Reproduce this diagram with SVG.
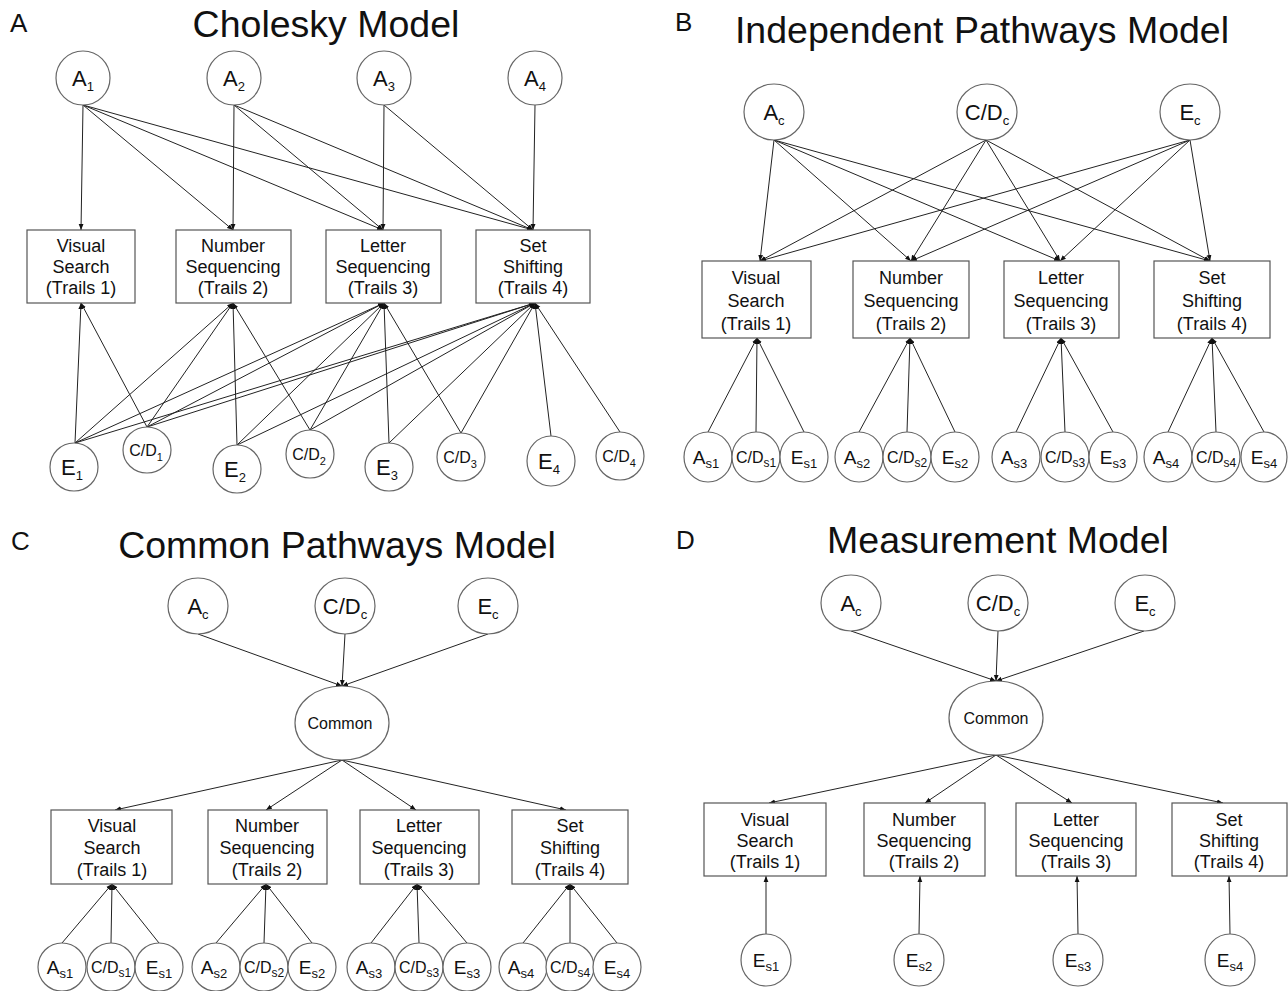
<svg xmlns="http://www.w3.org/2000/svg" width="1288" height="991" viewBox="0 0 1288 991">
<style>
text{font-family:"Liberation Sans",Arial,sans-serif;fill:#111}
.title{font-size:37.5px;text-anchor:middle}
.panel{font-size:26px}
.bl{font-size:18px;text-anchor:middle}
.big{font-size:22px;text-anchor:middle}
.mid{font-size:19px;text-anchor:middle}
.sm{font-size:16px;text-anchor:middle}
.cm{font-size:16px;text-anchor:middle}
ellipse{fill:#fff;stroke:#666;stroke-width:1.2}
.box{fill:#fff;stroke:#555;stroke-width:1.2}
.conn line{stroke:#222;stroke-width:1;marker-end:url(#ah)}
</style>
<defs>
<marker id="ah" viewBox="0 0 10 10" refX="10" refY="5" markerWidth="6" markerHeight="6" markerUnits="userSpaceOnUse" orient="auto"><path d="M0,1 L10,5 L0,9 z" fill="#111"/></marker>
</defs>
<rect x="0" y="0" width="1288" height="991" fill="#fff"/>

<!-- Panel labels and titles -->
<text class="panel" x="10" y="32">A</text>
<text class="title" x="326" y="37">Cholesky Model</text>
<text class="panel" x="675" y="31">B</text>
<text class="title" x="982" y="43">Independent Pathways Model</text>
<text class="panel" x="11" y="550">C</text>
<text class="title" x="337" y="558">Common Pathways Model</text>
<text class="panel" x="676" y="549">D</text>
<text class="title" x="998" y="553">Measurement Model</text>

<!-- Connectors -->
<g class="conn" id="connectors">
<!-- A top -->
<line x1="83" y1="105" x2="81" y2="230"/>
<line x1="83" y1="105" x2="233" y2="230"/>
<line x1="83" y1="105" x2="383" y2="230"/>
<line x1="83" y1="105" x2="533" y2="230"/>
<line x1="234" y1="105" x2="233" y2="230"/>
<line x1="234" y1="105" x2="383" y2="230"/>
<line x1="234" y1="105" x2="533" y2="230"/>
<line x1="384" y1="105" x2="383" y2="230"/>
<line x1="384" y1="105" x2="533" y2="230"/>
<line x1="535" y1="105" x2="533" y2="230"/>
<!-- A bottom -->
<line x1="75" y1="443" x2="81" y2="303"/>
<line x1="75" y1="443" x2="233" y2="303"/>
<line x1="75" y1="443" x2="384" y2="303"/>
<line x1="75" y1="443" x2="535" y2="303"/>
<line x1="147" y1="427" x2="81" y2="303"/>
<line x1="147" y1="427" x2="233" y2="303"/>
<line x1="147" y1="427" x2="384" y2="303"/>
<line x1="147" y1="427" x2="535" y2="303"/>
<line x1="237" y1="445" x2="233" y2="303"/>
<line x1="237" y1="445" x2="384" y2="303"/>
<line x1="237" y1="445" x2="535" y2="303"/>
<line x1="310" y1="430" x2="233" y2="303"/>
<line x1="310" y1="430" x2="384" y2="303"/>
<line x1="310" y1="430" x2="535" y2="303"/>
<line x1="389" y1="443" x2="384" y2="303"/>
<line x1="389" y1="443" x2="535" y2="303"/>
<line x1="461" y1="433" x2="384" y2="303"/>
<line x1="461" y1="433" x2="535" y2="303"/>
<line x1="551" y1="436" x2="535" y2="303"/>
<line x1="620" y1="432" x2="535" y2="303"/>
<!-- B top -->
<line x1="774" y1="140" x2="760" y2="261"/>
<line x1="774" y1="140" x2="911" y2="261"/>
<line x1="774" y1="140" x2="1060" y2="261"/>
<line x1="774" y1="140" x2="1210" y2="261"/>
<line x1="986" y1="140" x2="760" y2="261"/>
<line x1="986" y1="140" x2="911" y2="261"/>
<line x1="986" y1="140" x2="1060" y2="261"/>
<line x1="986" y1="140" x2="1210" y2="261"/>
<line x1="1190" y1="140" x2="760" y2="261"/>
<line x1="1190" y1="140" x2="911" y2="261"/>
<line x1="1190" y1="140" x2="1060" y2="261"/>
<line x1="1190" y1="140" x2="1210" y2="261"/>
<!-- B bottom -->
<line x1="708" y1="432" x2="757" y2="338"/>
<line x1="756" y1="432" x2="757" y2="338"/>
<line x1="804" y1="432" x2="757" y2="338"/>
<line x1="859" y1="432" x2="910" y2="338"/>
<line x1="907" y1="432" x2="910" y2="338"/>
<line x1="955" y1="432" x2="910" y2="338"/>
<line x1="1016" y1="432" x2="1061" y2="338"/>
<line x1="1065" y1="432" x2="1061" y2="338"/>
<line x1="1113" y1="432" x2="1061" y2="338"/>
<line x1="1168" y1="432" x2="1212" y2="338"/>
<line x1="1216" y1="432" x2="1212" y2="338"/>
<line x1="1264" y1="432" x2="1212" y2="338"/>
<!-- C top -->
<line x1="198" y1="634" x2="342" y2="686"/>
<line x1="345" y1="634" x2="342" y2="686"/>
<line x1="488" y1="634" x2="342" y2="686"/>
<line x1="342" y1="760" x2="115" y2="810"/>
<line x1="342" y1="760" x2="266" y2="810"/>
<line x1="342" y1="760" x2="416" y2="810"/>
<line x1="342" y1="760" x2="566" y2="810"/>
<!-- C bottom -->
<line x1="62" y1="943" x2="112" y2="884"/>
<line x1="111" y1="943" x2="112" y2="884"/>
<line x1="159" y1="943" x2="112" y2="884"/>
<line x1="216" y1="943" x2="266" y2="884"/>
<line x1="264" y1="943" x2="266" y2="884"/>
<line x1="312" y1="943" x2="266" y2="884"/>
<line x1="371" y1="943" x2="417" y2="884"/>
<line x1="419" y1="943" x2="417" y2="884"/>
<line x1="467" y1="943" x2="417" y2="884"/>
<line x1="523" y1="943" x2="570" y2="884"/>
<line x1="570" y1="943" x2="570" y2="884"/>
<line x1="617" y1="943" x2="570" y2="884"/>
<!-- D -->
<line x1="851" y1="631" x2="996" y2="681"/>
<line x1="998" y1="631" x2="996" y2="681"/>
<line x1="1144" y1="631" x2="996" y2="681"/>
<line x1="996" y1="755" x2="769" y2="803"/>
<line x1="996" y1="755" x2="925" y2="803"/>
<line x1="996" y1="755" x2="1072" y2="803"/>
<line x1="996" y1="755" x2="1223" y2="803"/>
<line x1="766" y1="934" x2="766" y2="876"/>
<line x1="919" y1="934" x2="920" y2="876"/>
<line x1="1078" y1="934" x2="1077" y2="876"/>
<line x1="1230" y1="934" x2="1229" y2="876"/>
</g>

<!-- Panel A nodes -->
<g id="A-A1"><ellipse cx="83" cy="78" rx="27" ry="27"/><text class="big" x="83" y="86">A<tspan font-size="13" dy="5">1</tspan></text></g>
<g id="A-A2"><ellipse cx="234" cy="78" rx="27" ry="27"/><text class="big" x="234" y="86">A<tspan font-size="13" dy="5">2</tspan></text></g>
<g id="A-A3"><ellipse cx="384" cy="78" rx="27" ry="27"/><text class="big" x="384" y="86">A<tspan font-size="13" dy="5">3</tspan></text></g>
<g id="A-A4"><ellipse cx="535" cy="78" rx="27" ry="27"/><text class="big" x="535" y="86">A<tspan font-size="13" dy="5">4</tspan></text></g>
<g id="A-T1"><rect class="box" x="27" y="230" width="108" height="73"/><text class="bl" x="81" y="252">Visual</text><text class="bl" x="81" y="273">Search</text><text class="bl" x="81" y="294">(Trails 1)</text></g>
<g id="A-T2"><rect class="box" x="176" y="230" width="115" height="73"/><text class="bl" x="233" y="252">Number</text><text class="bl" x="233" y="273">Sequencing</text><text class="bl" x="233" y="294">(Trails 2)</text></g>
<g id="A-T3"><rect class="box" x="326" y="230" width="115" height="73"/><text class="bl" x="383" y="252">Letter</text><text class="bl" x="383" y="273">Sequencing</text><text class="bl" x="383" y="294">(Trails 3)</text></g>
<g id="A-T4"><rect class="box" x="476" y="230" width="114" height="73"/><text class="bl" x="533" y="252">Set</text><text class="bl" x="533" y="273">Shifting</text><text class="bl" x="533" y="294">(Trails 4)</text></g>
<g id="A-E1"><ellipse cx="74" cy="467" rx="24" ry="24"/><text class="big" x="72" y="475">E<tspan font-size="13" dy="5">1</tspan></text></g>
<g id="A-CD1"><ellipse cx="147" cy="450" rx="24" ry="23"/><text class="sm" x="146" y="456">C/D<tspan font-size="11" dy="5">1</tspan></text></g>
<g id="A-E2"><ellipse cx="237" cy="469" rx="24" ry="24"/><text class="big" x="235" y="477">E<tspan font-size="13" dy="5">2</tspan></text></g>
<g id="A-CD2"><ellipse cx="310" cy="454" rx="24" ry="24"/><text class="sm" x="309" y="460">C/D<tspan font-size="11" dy="5">2</tspan></text></g>
<g id="A-E3"><ellipse cx="389" cy="467" rx="24" ry="24"/><text class="big" x="387" y="475">E<tspan font-size="13" dy="5">3</tspan></text></g>
<g id="A-CD3"><ellipse cx="461" cy="457" rx="24" ry="24"/><text class="sm" x="460" y="463">C/D<tspan font-size="11" dy="5">3</tspan></text></g>
<g id="A-E4"><ellipse cx="551" cy="461" rx="24" ry="25"/><text class="big" x="549" y="469">E<tspan font-size="13" dy="5">4</tspan></text></g>
<g id="A-CD4"><ellipse cx="620" cy="456" rx="24" ry="24"/><text class="sm" x="619" y="462">C/D<tspan font-size="11" dy="5">4</tspan></text></g>

<!-- Panel B nodes -->
<g id="B-Ac"><ellipse cx="774" cy="112" rx="30" ry="28"/><text class="big" x="774" y="120">A<tspan font-size="13" dy="5">c</tspan></text></g>
<g id="B-CDc"><ellipse cx="987" cy="112" rx="30" ry="28"/><text class="big" x="987" y="120">C/D<tspan font-size="13" dy="5">c</tspan></text></g>
<g id="B-Ec"><ellipse cx="1190" cy="112" rx="30" ry="28"/><text class="big" x="1190" y="120">E<tspan font-size="13" dy="5">c</tspan></text></g>
<g id="B-T1"><rect class="box" x="702" y="261" width="109" height="77"/><text class="bl" x="756" y="284">Visual</text><text class="bl" x="756" y="307">Search</text><text class="bl" x="756" y="330">(Trails 1)</text></g>
<g id="B-T2"><rect class="box" x="853" y="261" width="116" height="77"/><text class="bl" x="911" y="284">Number</text><text class="bl" x="911" y="307">Sequencing</text><text class="bl" x="911" y="330">(Trails 2)</text></g>
<g id="B-T3"><rect class="box" x="1004" y="261" width="115" height="77"/><text class="bl" x="1061" y="284">Letter</text><text class="bl" x="1061" y="307">Sequencing</text><text class="bl" x="1061" y="330">(Trails 3)</text></g>
<g id="B-T4"><rect class="box" x="1154" y="261" width="116" height="77"/><text class="bl" x="1212" y="284">Set</text><text class="bl" x="1212" y="307">Shifting</text><text class="bl" x="1212" y="330">(Trails 4)</text></g>
<g id="B-As1"><ellipse cx="708" cy="457" rx="24" ry="25"/><text class="mid" x="706" y="464">A<tspan font-size="13" dy="4">s1</tspan></text></g>
<g id="B-CDs1"><ellipse cx="756" cy="457" rx="24" ry="25"/><text class="sm" x="756" y="463">C/D<tspan font-size="12" dy="4">s1</tspan></text></g>
<g id="B-Es1"><ellipse cx="804" cy="457" rx="24" ry="25"/><text class="mid" x="804" y="464">E<tspan font-size="13" dy="4">s1</tspan></text></g>
<g id="B-As2"><ellipse cx="859" cy="457" rx="24" ry="25"/><text class="mid" x="857" y="464">A<tspan font-size="13" dy="4">s2</tspan></text></g>
<g id="B-CDs2"><ellipse cx="907" cy="457" rx="24" ry="25"/><text class="sm" x="907" y="463">C/D<tspan font-size="12" dy="4">s2</tspan></text></g>
<g id="B-Es2"><ellipse cx="955" cy="457" rx="24" ry="25"/><text class="mid" x="955" y="464">E<tspan font-size="13" dy="4">s2</tspan></text></g>
<g id="B-As3"><ellipse cx="1016" cy="457" rx="24" ry="25"/><text class="mid" x="1014" y="464">A<tspan font-size="13" dy="4">s3</tspan></text></g>
<g id="B-CDs3"><ellipse cx="1065" cy="457" rx="24" ry="25"/><text class="sm" x="1065" y="463">C/D<tspan font-size="12" dy="4">s3</tspan></text></g>
<g id="B-Es3"><ellipse cx="1113" cy="457" rx="24" ry="25"/><text class="mid" x="1113" y="464">E<tspan font-size="13" dy="4">s3</tspan></text></g>
<g id="B-As4"><ellipse cx="1168" cy="457" rx="24" ry="25"/><text class="mid" x="1166" y="464">A<tspan font-size="13" dy="4">s4</tspan></text></g>
<g id="B-CDs4"><ellipse cx="1216" cy="457" rx="24" ry="25"/><text class="sm" x="1216" y="463">C/D<tspan font-size="12" dy="4">s4</tspan></text></g>
<g id="B-Es4"><ellipse cx="1264" cy="457" rx="23" ry="25"/><text class="mid" x="1264" y="464">E<tspan font-size="13" dy="4">s4</tspan></text></g>

<!-- Panel C nodes -->
<g id="C-Ac"><ellipse cx="198" cy="606" rx="30" ry="28"/><text class="big" x="198" y="614">A<tspan font-size="13" dy="5">c</tspan></text></g>
<g id="C-CDc"><ellipse cx="345" cy="606" rx="30" ry="28"/><text class="big" x="345" y="614">C/D<tspan font-size="13" dy="5">c</tspan></text></g>
<g id="C-Ec"><ellipse cx="488" cy="606" rx="30" ry="28"/><text class="big" x="488" y="614">E<tspan font-size="13" dy="5">c</tspan></text></g>
<g id="C-Common"><ellipse cx="342" cy="723" rx="47" ry="37"/><text class="cm" x="340" y="729">Common</text></g>
<g id="C-T1"><rect class="box" x="51" y="810" width="121" height="74"/><text class="bl" x="112" y="832">Visual</text><text class="bl" x="112" y="854">Search</text><text class="bl" x="112" y="876">(Trails 1)</text></g>
<g id="C-T2"><rect class="box" x="208" y="810" width="119" height="74"/><text class="bl" x="267" y="832">Number</text><text class="bl" x="267" y="854">Sequencing</text><text class="bl" x="267" y="876">(Trails 2)</text></g>
<g id="C-T3"><rect class="box" x="360" y="810" width="119" height="74"/><text class="bl" x="419" y="832">Letter</text><text class="bl" x="419" y="854">Sequencing</text><text class="bl" x="419" y="876">(Trails 3)</text></g>
<g id="C-T4"><rect class="box" x="512" y="810" width="116" height="74"/><text class="bl" x="570" y="832">Set</text><text class="bl" x="570" y="854">Shifting</text><text class="bl" x="570" y="876">(Trails 4)</text></g>
<g id="C-As1"><ellipse cx="62" cy="967" rx="24" ry="24"/><text class="mid" x="60" y="974">A<tspan font-size="13" dy="4">s1</tspan></text></g>
<g id="C-CDs1"><ellipse cx="111" cy="967" rx="24" ry="24"/><text class="sm" x="111" y="973">C/D<tspan font-size="12" dy="4">s1</tspan></text></g>
<g id="C-Es1"><ellipse cx="159" cy="967" rx="24" ry="24"/><text class="mid" x="159" y="974">E<tspan font-size="13" dy="4">s1</tspan></text></g>
<g id="C-As2"><ellipse cx="216" cy="967" rx="24" ry="24"/><text class="mid" x="214" y="974">A<tspan font-size="13" dy="4">s2</tspan></text></g>
<g id="C-CDs2"><ellipse cx="264" cy="967" rx="24" ry="24"/><text class="sm" x="264" y="973">C/D<tspan font-size="12" dy="4">s2</tspan></text></g>
<g id="C-Es2"><ellipse cx="312" cy="967" rx="24" ry="24"/><text class="mid" x="312" y="974">E<tspan font-size="13" dy="4">s2</tspan></text></g>
<g id="C-As3"><ellipse cx="371" cy="967" rx="24" ry="24"/><text class="mid" x="369" y="974">A<tspan font-size="13" dy="4">s3</tspan></text></g>
<g id="C-CDs3"><ellipse cx="419" cy="967" rx="24" ry="24"/><text class="sm" x="419" y="973">C/D<tspan font-size="12" dy="4">s3</tspan></text></g>
<g id="C-Es3"><ellipse cx="467" cy="967" rx="24" ry="24"/><text class="mid" x="467" y="974">E<tspan font-size="13" dy="4">s3</tspan></text></g>
<g id="C-As4"><ellipse cx="523" cy="967" rx="24" ry="24"/><text class="mid" x="521" y="974">A<tspan font-size="13" dy="4">s4</tspan></text></g>
<g id="C-CDs4"><ellipse cx="570" cy="967" rx="24" ry="24"/><text class="sm" x="570" y="973">C/D<tspan font-size="12" dy="4">s4</tspan></text></g>
<g id="C-Es4"><ellipse cx="617" cy="967" rx="24" ry="24"/><text class="mid" x="617" y="974">E<tspan font-size="13" dy="4">s4</tspan></text></g>

<!-- Panel D nodes -->
<g id="D-Ac"><ellipse cx="851" cy="603" rx="30" ry="28"/><text class="big" x="851" y="611">A<tspan font-size="13" dy="5">c</tspan></text></g>
<g id="D-CDc"><ellipse cx="998" cy="603" rx="30" ry="28"/><text class="big" x="998" y="611">C/D<tspan font-size="13" dy="5">c</tspan></text></g>
<g id="D-Ec"><ellipse cx="1145" cy="603" rx="30" ry="28"/><text class="big" x="1145" y="611">E<tspan font-size="13" dy="5">c</tspan></text></g>
<g id="D-Common"><ellipse cx="996" cy="718" rx="47" ry="37"/><text class="cm" x="996" y="724">Common</text></g>
<g id="D-T1"><rect class="box" x="704" y="803" width="122" height="73"/><text class="bl" x="765" y="826">Visual</text><text class="bl" x="765" y="847">Search</text><text class="bl" x="765" y="868">(Trails 1)</text></g>
<g id="D-T2"><rect class="box" x="864" y="803" width="121" height="73"/><text class="bl" x="924" y="826">Number</text><text class="bl" x="924" y="847">Sequencing</text><text class="bl" x="924" y="868">(Trails 2)</text></g>
<g id="D-T3"><rect class="box" x="1016" y="803" width="120" height="73"/><text class="bl" x="1076" y="826">Letter</text><text class="bl" x="1076" y="847">Sequencing</text><text class="bl" x="1076" y="868">(Trails 3)</text></g>
<g id="D-T4"><rect class="box" x="1172" y="803" width="115" height="73"/><text class="bl" x="1229" y="826">Set</text><text class="bl" x="1229" y="847">Shifting</text><text class="bl" x="1229" y="868">(Trails 4)</text></g>
<g id="D-Es1"><ellipse cx="766" cy="960" rx="25" ry="26"/><text class="mid" x="766" y="967">E<tspan font-size="13" dy="4">s1</tspan></text></g>
<g id="D-Es2"><ellipse cx="919" cy="960" rx="25" ry="26"/><text class="mid" x="919" y="967">E<tspan font-size="13" dy="4">s2</tspan></text></g>
<g id="D-Es3"><ellipse cx="1078" cy="960" rx="25" ry="26"/><text class="mid" x="1078" y="967">E<tspan font-size="13" dy="4">s3</tspan></text></g>
<g id="D-Es4"><ellipse cx="1230" cy="960" rx="25" ry="26"/><text class="mid" x="1230" y="967">E<tspan font-size="13" dy="4">s4</tspan></text></g>
</svg>
